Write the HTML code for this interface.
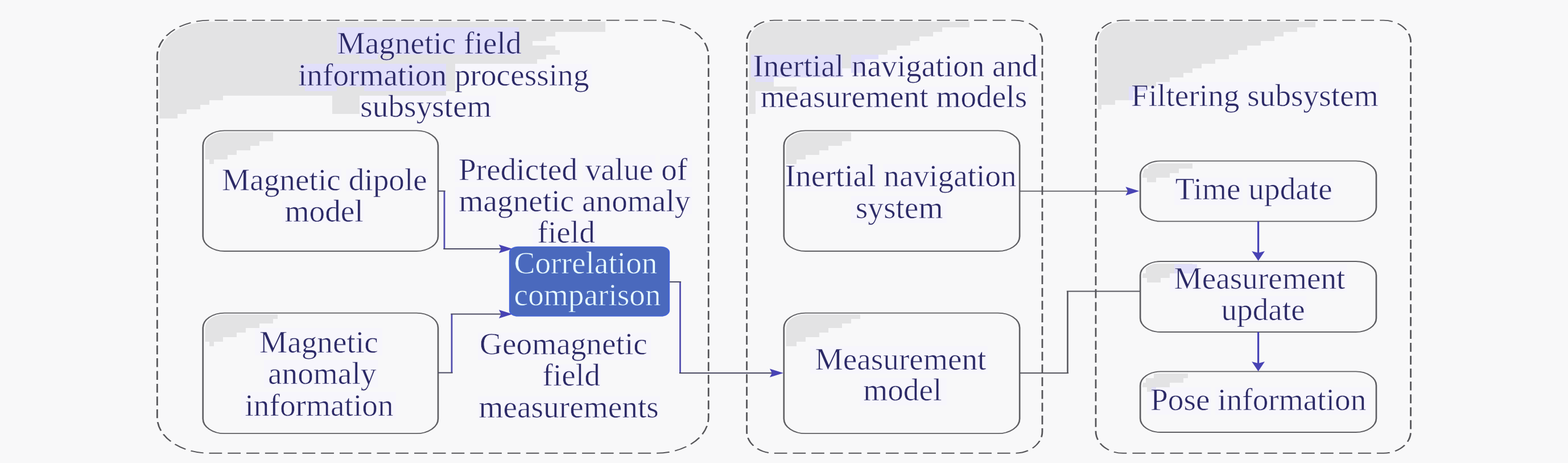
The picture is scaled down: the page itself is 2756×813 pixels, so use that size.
<!DOCTYPE html>
<html><head><meta charset="utf-8"><title>Navigation system diagram</title>
<style>
html,body{margin:0;padding:0;background:#f8f8f9;}
body{width:2756px;height:813px;overflow:hidden;}
svg{display:block;}
text{font-family:"Liberation Serif","Times New Roman",serif;font-size:55.3px;fill:#2b2966;stroke:#f5f4fc;stroke-width:0.65px;stroke-linejoin:round;}
text.og,tspan.og{stroke:#e1dffa;}
.lv{fill:#e1dffa;}
.lw{fill:#f7f6fc;}
text.w{fill:#e8fcff;stroke:#4a69bd;stroke-width:0.7px;}
.d{fill:none;stroke:#555559;stroke-width:1.9;stroke-dasharray:15.6 6.9;}
.b{fill:none;stroke:#5e5e62;stroke-width:1.8;}
.hl{fill:none;stroke:#f8f8f9;stroke-width:5.5;}
.l{fill:none;stroke:#504cae;stroke-width:1.9;}
.lb{fill:none;stroke:#4642b6;stroke-width:2.2;}
.sh{filter:blur(0.5px);}
.tx{filter:blur(0.55px);}
.g{fill:none;stroke:#57575f;stroke-width:1.8;}
.l.k{stroke:#4a4a62;}
.h{fill:#4843b4;}
.s{fill:#e3e3e4;}
</style></head><body>
<svg width="2756" height="813" viewBox="0 0 2756 813">
<rect width="2756" height="813" fill="#f8f8f9"/>
<defs>
<clipPath id="cd0"><rect x="189.25" y="35.6" width="663.7" height="760.2" rx="63" ry="63" transform="scale(1.46,1)"/></clipPath>
<clipPath id="cd1"><rect x="899.04" y="35.6" width="355.75" height="760.2" rx="33" ry="38" transform="scale(1.46,1)"/></clipPath>
<clipPath id="cd2"><rect x="1319.18" y="35.6" width="379.18" height="760.2" rx="33" ry="38" transform="scale(1.46,1)"/></clipPath>
<clipPath id="cs0"><rect x="244.32" y="229.4" width="283.08" height="211.6" rx="26" ry="26" transform="scale(1.46,1)"/></clipPath>
<clipPath id="cs1"><rect x="244.32" y="549.6" width="283.08" height="211.6" rx="26" ry="26" transform="scale(1.46,1)"/></clipPath>
<clipPath id="cs2"><rect x="943.7" y="229.4" width="283.83" height="211.6" rx="26" ry="26" transform="scale(1.46,1)"/></clipPath>
<clipPath id="cs3"><rect x="943.7" y="549.6" width="283.83" height="211.6" rx="26" ry="26" transform="scale(1.46,1)"/></clipPath>
<clipPath id="cs4"><rect x="1372.74" y="282.6" width="284.11" height="106.0" rx="24.5" ry="24.5" transform="scale(1.46,1)"/></clipPath>
<clipPath id="cs5"><rect x="1372.74" y="459" width="284.11" height="124" rx="24.5" ry="24.5" transform="scale(1.46,1)"/></clipPath>
<clipPath id="cs6"><rect x="1372.74" y="652.4" width="284.11" height="106.6" rx="24.5" ry="24.5" transform="scale(1.46,1)"/></clipPath>
</defs>
<path class="lw" d="M584,56H808V104H584ZM808,56H920V104H808ZM520,112H792V152H520ZM792,112H1040V152H792ZM632,168H872V208H632ZM384,296H600V336H384ZM608,296H752V336H608ZM496,352H640V392H496ZM800,272H1016V320H800ZM1024,272H1152V320H1024ZM1160,272H1216V320H1160ZM800,328H1016V376H800ZM1016,328H1216V376H1016ZM936,384H1048V432H936ZM448,576H672V624H448ZM464,632H664V680H464ZM424,688H696V736H424ZM840,584H1144V632H840ZM952,640H1056V680H952ZM840,696H1160V736H840ZM1320,96H1488V136H1320ZM1488,96H1736V136H1488ZM1736,96H1832V136H1736ZM1328,152H1640V192H1328ZM1640,152H1808V192H1640ZM1376,288H1544V336H1376ZM1552,288H1792V336H1552ZM1496,344H1664V392H1496ZM1424,608H1736V656H1424ZM1512,664H1664V712H1512ZM1984,144H2184V192H1984ZM2184,144H2424V192H2184ZM2064,312H2184V360H2064ZM2192,312H2344V360H2192ZM2056,464H2368V512H2056ZM2144,520H2296V568H2144ZM2016,680H2128V728H2016ZM2136,680H2408V728H2136Z"/>
<polygon class="s" clip-path="url(#cd0)" points="270,36 1064,36 1064,56 976,56 976,64 960,64 960,72 936,72 936,80 976,80 976,88 984,88 984,96 960,96 960,104 944,104 944,112 800,112 800,160 784,160 784,168 392,168 392,176 368,176 368,184 352,184 352,192 328,192 328,200 312,200 312,208 270,208"/>
<rect class="s" x="584" y="168" width="48" height="32"/>
<polygon class="s" clip-path="url(#cd1)" points="1306,36 1704,36 1704,48 1656,48 1656,56 1640,56 1640,64 1616,64 1616,72 1600,72 1600,80 1576,80 1576,88 1560,88 1560,96 1544,96 1544,104 1520,104 1520,112 1496,112 1496,120 1480,120 1480,136 1328,136 1328,144 1360,144 1360,152 1400,152 1400,160 1328,160 1328,200 1306,200"/>
<polygon class="s" clip-path="url(#cd2)" points="1920,36 2312,36 2312,48 2280,48 2280,56 2256,56 2256,64 2240,64 2240,72 2216,72 2216,80 2192,80 2192,88 2176,88 2176,96 2160,96 2160,104 2136,104 2136,112 2112,112 2112,120 2096,120 2096,128 2080,128 2080,136 2056,136 2056,144 2032,144 2032,152 2016,152 2016,160 1984,160 1984,176 1960,176 1960,184 1936,184 1936,192 1920,192"/>
<path class="s" clip-path="url(#cs0)" d="M356,229H480V248H356ZM356,248H456V256H356ZM356,256H440V264H356ZM356,264H416V272H356ZM356,272H400V280H356ZM368,280H376V288H368Z"/>
<path class="s" clip-path="url(#cs1)" d="M356,549H488V560H356ZM356,560H480V568H356ZM356,568H456V576H356ZM356,576H432V584H356ZM356,584H416V592H356ZM356,592H392V600H356ZM368,600H376V608H368Z"/>
<path class="s" clip-path="url(#cs2)" d="M1377,229H1496V248H1377ZM1377,248H1480V256H1377ZM1377,256H1456V264H1377ZM1377,264H1440V272H1377ZM1377,272H1416V280H1377ZM1377,280H1400V288H1377Z"/>
<path class="s" clip-path="url(#cs3)" d="M1377,549H1512V560H1377ZM1377,560H1496V568H1377ZM1377,568H1480V576H1377ZM1377,576H1456V584H1377ZM1377,584H1440V592H1377ZM1377,592H1416V600H1377ZM1377,600H1400V608H1377Z"/>
<path class="s" clip-path="url(#cs4)" d="M2018,287H2096V296H2018ZM2010,296H2072V304H2010ZM2004,304H2056V312H2004ZM2016,312H2032V320H2016Z"/>
<path class="s" clip-path="url(#cs5)" d="M2014,463H2096V480H2014ZM2004,480H2056V488H2004ZM2016,488H2040V496H2016Z"/>
<path class="s" clip-path="url(#cs6)" d="M2028,656H2088V664H2028ZM2014,664H2080V672H2014ZM2004,672H2056V680H2004ZM2016,680H2032V688H2016Z"/>
<path class="lv" d="M592,48H912V96H592ZM632,96H664V104H632ZM528,112H784V152H528ZM536,152H592V160H536ZM640,152H784V160H640ZM1320,96H1480V136H1320ZM1328,136H1360V144H1328ZM1496,104H1520V128H1496ZM1496,96H1544V104H1496ZM2064,464H2104V480H2064ZM2024,680H2032V688H2024ZM1984,152H2016V160H1984ZM1984,160H1992V176H1984Z"/>
<g class="sh"><g transform="scale(1.46,1)">
<rect x="189.25" y="35.6" width="663.7" height="760.2" rx="63" ry="63" class="hl"/>
<rect x="189.25" y="35.6" width="663.7" height="760.2" rx="63" ry="63" class="d" pathLength="2745" stroke-dashoffset="16.2"/>
<rect x="899.04" y="35.6" width="355.75" height="760.2" rx="33" ry="38" class="hl"/>
<rect x="899.04" y="35.6" width="355.75" height="760.2" rx="33" ry="38" class="d" pathLength="2182.5" stroke-dashoffset="5.6"/>
<rect x="1319.18" y="35.6" width="379.18" height="760.2" rx="33" ry="38" class="hl"/>
<rect x="1319.18" y="35.6" width="379.18" height="760.2" rx="33" ry="38" class="d" pathLength="2205" stroke-dashoffset="7.8"/>
<rect x="244.32" y="229.4" width="283.08" height="211.6" rx="26" ry="26" class="hl"/>
<rect x="244.32" y="229.4" width="283.08" height="211.6" rx="26" ry="26" class="b"/>
<rect x="244.32" y="549.6" width="283.08" height="211.6" rx="26" ry="26" class="hl"/>
<rect x="244.32" y="549.6" width="283.08" height="211.6" rx="26" ry="26" class="b"/>
<rect x="943.7" y="229.4" width="283.83" height="211.6" rx="26" ry="26" class="hl"/>
<rect x="943.7" y="229.4" width="283.83" height="211.6" rx="26" ry="26" class="b"/>
<rect x="943.7" y="549.6" width="283.83" height="211.6" rx="26" ry="26" class="hl"/>
<rect x="943.7" y="549.6" width="283.83" height="211.6" rx="26" ry="26" class="b"/>
<rect x="1372.74" y="282.6" width="284.11" height="106.0" rx="24.5" ry="24.5" class="hl"/>
<rect x="1372.74" y="282.6" width="284.11" height="106.0" rx="24.5" ry="24.5" class="b"/>
<rect x="1372.74" y="459" width="284.11" height="124" rx="24.5" ry="24.5" class="hl"/>
<rect x="1372.74" y="459" width="284.11" height="124" rx="24.5" ry="24.5" class="b"/>
<rect x="1372.74" y="652.4" width="284.11" height="106.6" rx="24.5" ry="24.5" class="hl"/>
<rect x="1372.74" y="652.4" width="284.11" height="106.6" rx="24.5" ry="24.5" class="b"/>
<path class="l" d="M534.93,335.5L534.93,437"/><path class="l k" d="M527.4,335.5L536.03,335.5M533.84,437L605.48,437"/>
<polygon class="h" points="617.12,437 600.62,429.4 603.32,437 600.62,444.6"/>
<path class="l" d="M543.84,654.5L543.84,551.5"/><path class="l k" d="M527.4,654.5L544.93,654.5M542.74,551.5L605.48,551.5"/>
<polygon class="h" points="617.12,551.5 600.62,543.9 603.32,551.5 600.62,559.1"/>
<path class="l" d="M818.84,495L818.84,655"/><path class="l k" d="M806.16,495L819.93,495M817.74,655L931.51,655"/>
<polygon class="h" points="943.15,655 926.65,647.4 929.35,655 926.65,662.6"/>
<path class="g k" d="M1227.4,335.6L1359.59,335.6"/>
<polygon class="h" points="1371.58,335.6 1355.08,328.0 1357.78,335.6 1355.08,343.20000000000005"/>
<path class="g" d="M1285.27,655L1285.27,511.5"/><path class="g k" d="M1227.4,655L1286.37,655M1284.18,511.5L1372.6,511.5"/>
<path class="lb" d="M1514.79,388.6L1514.79,444"/>
<polygon class="h" points="1514.79,458 1506.99,441 1514.79,444 1522.59,441"/>
<path class="lb" d="M1514.79,583L1514.79,638"/>
<polygon class="h" points="1514.79,652 1506.99,635 1514.79,638 1522.59,635"/>
<rect x="613.7" y="433.5" width="191.78" height="121.5" rx="10" ry="10" fill="#4a69bd" stroke="#4565d6" stroke-width="1.6"/>
</g></g>
<g class="tx">
<text x="592.6" y="94.2" class="og">Magnetic field</text>
<text x="524" y="149.8"><tspan class="og">information</tspan> processing</text>
<text x="633.3" y="205">subsystem</text>
<text x="390" y="333.5">Magnetic dipole</text>
<text x="500.5" y="389">model</text>
<text x="806" y="315.5">Predicted value of</text>
<text x="806.5" y="371">magnetic anomaly</text>
<text x="944.5" y="425.5">field</text>
<text x="903.6" y="480" class="w">Correlation</text>
<text x="903.6" y="535.5" class="w">comparison</text>
<text x="456" y="619">Magnetic</text>
<text x="471" y="674">anomaly</text>
<text x="430.5" y="730.3">information</text>
<text x="843" y="622.3">Geomagnetic</text>
<text x="953.5" y="677">field</text>
<text x="841.5" y="732.6">measurements</text>
<text x="1323.4" y="133.8"><tspan class="og">Inertial</tspan> navigation and</text>
<text x="1336.8" y="188.4">measurement models</text>
<text x="1379.8" y="327.2">Inertial navigation</text>
<text x="1503.8" y="383">system</text>
<text x="1432.5" y="648.8">Measurement</text>
<text x="1517.2" y="702.6">model</text>
<text x="1988" y="186.3">Filtering subsystem</text>
<text x="2065.8" y="350.3">Time update</text>
<text x="2063.5" y="506.6">Measurement</text>
<text x="2146.4" y="562">update</text>
<text x="2022" y="719.8">Pose information</text>
</g>
</svg>
</body></html>
